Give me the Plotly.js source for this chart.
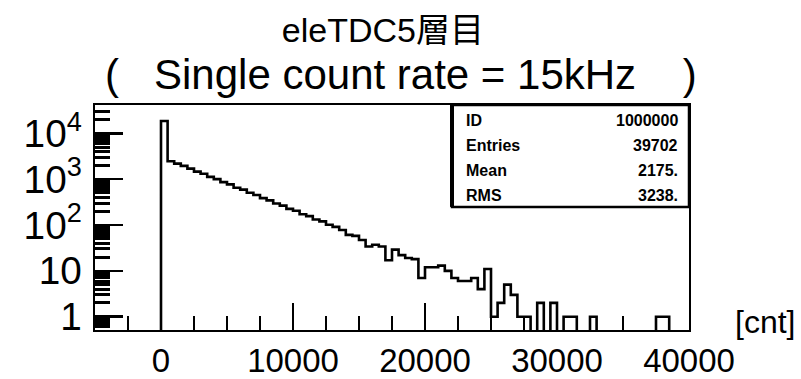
<!DOCTYPE html>
<html>
<head>
<meta charset="utf-8">
<script src="https://cdn.plot.ly/plotly-3.0.1.min.js"></script>
<style>
  html, body { margin: 0; padding: 0; background: #ffffff; }
  #chart { width: 801px; height: 379px; }
</style>
</head>
<body>
<div id="chart"></div>
<script>
// ---- data ----
const binStart = 0;          // lower edge of first bin [cnt]
const binWidth = 500;        // bin width [cnt]
// counts per bin, bins 0-500, 500-1000, ...
const counts = [
  18500, 2450, 2180, 1950, 1700, 1460, 1310, 1120, 1000, 860,
  770, 650, 590, 505, 450, 385, 345, 295, 265, 225,
  205, 172, 156, 132, 120, 101, 91, 78, 61, 58,
  47, 34, 37, 34, 17, 29, 22, 19, 18, 7,
  12, 12, 13, 10, 7, 6, 6, 7, 4, 11,
  1, 2, 5, 3, 1, 1, 0, 2, 0, 2,
  0, 1, 1, 0, 0, 1, 0, 0, 0, 0,
  0, 0, 0, 0, 0, 1, 1
];
const xTickVals = [0, 10000, 20000, 30000, 40000];
const xTickText = ['0', '10000', '20000', '30000', '40000'];
const statLabels = ['ID', 'Entries', 'Mean', 'RMS'];
const statValues = ['1000000', '39702', '2175.', '3238.'];
const titleLine1 = 'eleTDC5層目';
const titleLine2 = '(\u00A0\u00A0\u00A0Single count rate = 15kHz\u00A0\u00A0\u00A0\u00A0)';
const xUnit = '[cnt]';

// ---- build step outline of the histogram ----
const floorVal = 0.05; // empty bins drop below the visible log range
const xs = [binStart];
const ys = [floorVal];
for (let i = 0; i < counts.length; i++) {
  xs.push(binStart + i * binWidth);
  ys.push(counts[i] > 0 ? counts[i] : floorVal);
}
xs.push(binStart + counts.length * binWidth);
ys.push(floorVal);

const trace = {
  type: 'scatter',
  mode: 'lines',
  x: xs,
  y: ys,
  line: { shape: 'hv', color: '#000000', width: 2.6 },
  hoverinfo: 'skip',
  showlegend: false
};

const FONT = 'Arial, "Liberation Sans", Helvetica, sans-serif';

// stats box annotations
const rowY = [0.933, 0.822, 0.711, 0.600];
const annotations = [];
for (let i = 0; i < statLabels.length; i++) {
  annotations.push({
    xref: 'paper', yref: 'paper', x: 0.622, y: rowY[i],
    xanchor: 'left', yanchor: 'middle', showarrow: false,
    text: '<b>' + statLabels[i] + '</b>',
    font: { family: FONT, size: 16, color: '#000' }
  });
  annotations.push({
    xref: 'paper', yref: 'paper', x: 0.985, y: rowY[i],
    xanchor: 'right', yanchor: 'middle', showarrow: false,
    text: '<b>' + statValues[i] + '</b>',
    font: { family: FONT, size: 16, color: '#000' }
  });
}
annotations.push({
  xref: 'paper', yref: 'paper', x: 0.515, y: 1.135,
  xanchor: 'center', yanchor: 'middle', showarrow: false,
  text: titleLine2,
  font: { family: FONT, size: 42, color: '#000' }
});
annotations.push({
  xref: 'paper', yref: 'paper', x: 1.128, y: 0.035,
  xanchor: 'center', yanchor: 'middle', showarrow: false,
  text: xUnit,
  font: { family: FONT, size: 32, color: '#000' }
});

const layout = {
  width: 801,
  height: 379,
  margin: { l: 95, r: 112, t: 105, b: 49, pad: 0 },
  paper_bgcolor: '#ffffff',
  plot_bgcolor: '#ffffff',
  showlegend: false,
  title: {
    text: titleLine1,
    x: 0.478, xanchor: 'center',
    y: 0.921, yanchor: 'middle',
    font: { family: FONT + ', "Noto Sans CJK JP"', size: 34, color: '#000' }
  },
  xaxis: {
    range: [-5000, 40000],
    tickmode: 'array',
    tickvals: xTickVals,
    ticktext: xTickText,
    ticks: 'inside',
    ticklen: 27,
    tickwidth: 2,
    tickcolor: '#000',
    ticklabelstandoff: 0,
    minor: { dtick: 2500, tick0: 0, ticks: 'inside', ticklen: 14, tickwidth: 2, tickcolor: '#000', showgrid: false },
    showgrid: false,
    zeroline: false,
    showline: true,
    linecolor: '#000',
    linewidth: 2,
    mirror: true,
    tickfont: { family: FONT, size: 33, color: '#000' },
    fixedrange: true
  },
  yaxis: {
    type: 'log',
    range: [-0.29, 4.617],
    dtick: 1,
    exponentformat: 'power',
    ticks: 'inside',
    ticklen: 28,
    tickwidth: 2.5,
    tickcolor: '#000',
    ticklabelstandoff: 5,
    minor: { dtick: 'D1', ticks: 'inside', ticklen: 15, tickwidth: 3, tickcolor: '#000', showgrid: false },
    showgrid: false,
    zeroline: false,
    showline: true,
    linecolor: '#000',
    linewidth: 2,
    mirror: true,
    tickfont: { family: FONT, size: 31, color: '#000' },
    fixedrange: true
  },
  shapes: [
    {
      type: 'rect', xref: 'paper', yref: 'paper',
      x0: 0.601, x1: 1, y0: 0.547, y1: 1,
      line: { color: '#000', width: 2.5 }, fillcolor: 'rgba(0,0,0,0)'
    },
    {
      type: 'line', xref: 'paper', yref: 'paper',
      x0: 0.601, x1: 0.601, y0: 0.547, y1: 1,
      line: { color: '#000', width: 4 }
    }
  ],
  annotations: annotations
};

Plotly.newPlot('chart', [trace], layout, { staticPlot: true, displayModeBar: false });
</script>
</body>
</html>
